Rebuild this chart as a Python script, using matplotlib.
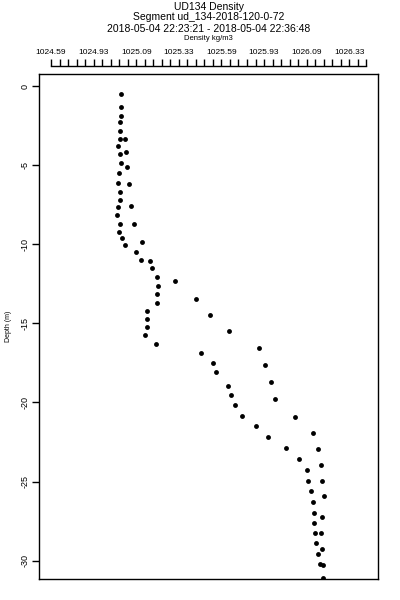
import matplotlib
matplotlib.use("Agg")
import matplotlib.pyplot as plt
import numpy as np
from matplotlib.ticker import FixedLocator, NullFormatter

plt.rcParams['font.family'] = ['Liberation Sans', 'DejaVu Sans']

# Data (density kg/m3, depth m)
density = [1024.997, 1024.998, 1024.998, 1024.994, 1024.993, 1024.991, 1025.023, 1024.983,
           1025.029, 1024.991, 1024.998, 1025.033, 1024.985, 1024.979, 1025.047, 1024.991,
           1024.991, 1024.983, 1025.055, 1024.977, 1024.991, 1025.074, 1024.987, 1025.003,
           1025.121, 1025.020, 1025.084, 1025.117, 1025.168, 1025.181, 1025.210, 1025.313,
           1025.214, 1025.208, 1025.436, 1025.207, 1025.152, 1025.519, 1025.152, 1025.148,
           1025.627, 1025.138, 1025.204, 1025.802, 1025.465, 1025.535, 1025.837, 1025.552,
           1025.871, 1025.621, 1025.638, 1025.896, 1025.664, 1025.706, 1026.015, 1025.788,
           1026.120, 1025.854, 1025.963, 1026.146, 1026.036, 1026.164, 1026.082, 1026.091,
           1026.171, 1026.109, 1026.181, 1026.117, 1026.123, 1026.173, 1026.126, 1026.128,
           1026.167, 1026.134, 1026.169, 1026.148, 1026.159, 1026.175, 1026.175]
depth = [-0.49, -1.35, -1.88, -2.29, -2.83, -3.33, -3.33, -3.77,
         -4.15, -4.30, -4.85, -5.14, -5.50, -6.15, -6.21, -6.68,
         -7.19, -7.63, -7.60, -8.15, -8.74, -8.74, -9.21, -9.63,
         -9.88, -10.07, -10.49, -10.98, -11.08, -11.49, -12.05, -12.35,
         -12.62, -13.15, -13.44, -13.70, -14.22, -14.46, -14.73, -15.25,
         -15.51, -15.76, -16.29, -16.58, -16.86, -17.48, -17.62, -18.10,
         -18.73, -18.95, -19.55, -19.80, -20.18, -20.83, -20.90, -21.47,
         -21.92, -22.17, -22.87, -22.96, -23.55, -23.96, -24.25, -24.95,
         -24.95, -25.62, -25.94, -26.30, -26.97, -27.24, -27.62, -28.26,
         -28.24, -28.89, -29.25, -29.56, -30.20, -30.26, -31.12]

xtick_labels = ['1024.59', '1024.93', '1025.09', '1025.33', '1025.59', '1025.93', '1026.09', '1026.33']
xtick_start = 1024.59
xtick_step = 0.2486
ytick_values = [0, -5, -10, -15, -20, -25, -30]

W, H = 400, 600
fig = plt.figure(figsize=(4, 6), dpi=100)
ax = fig.add_axes([39 / W, 1 - 579 / H, (378 - 39) / W, (579 - 74) / H])

ax.plot(density, depth, linestyle='none', marker='o', ms=3.5, color='black', mec='black', mew=0)

ax.set_xlim(1024.52, 1026.498)
ax.set_ylim(-31.16, 0.76)

for s in ax.spines.values():
    s.set_linewidth(1.0)
    s.set_color('black')

# y axis
ax.set_yticks(ytick_values)
ax.set_yticklabels([str(v) for v in ytick_values], rotation=90, va='center', fontsize=6.5)
ax.tick_params(axis='y', direction='out', length=5, width=1, pad=2)
ax.set_xticks([])
ax.set_ylabel('Depth (m)', fontsize=5, labelpad=6)

# top axis
major_pos = [xtick_start + i * xtick_step for i in range(len(xtick_labels))]
minor_pos = [xtick_start + k * xtick_step / 5 for k in range(38)]
ax2 = ax.twiny()
ax2.set_xlim(ax.get_xlim())
for name in ['bottom', 'left', 'right']:
    ax2.spines[name].set_visible(False)
ax2.spines['top'].set_position(('outward', 6))
ax2.spines['top'].set_bounds(minor_pos[0], minor_pos[-1])
ax2.spines['top'].set_linewidth(1.0)
ax2.xaxis.set_major_locator(FixedLocator(major_pos))
ax2.xaxis.set_minor_locator(FixedLocator(minor_pos))
ax2.set_xticklabels(xtick_labels, fontsize=6)
ax2.tick_params(axis='x', which='both', direction='out', length=5, width=1, pad=2)

# titles
def fy(py):
    return 1 - py / H
cx = (39 + 378) / 2 / W
fig.text(cx, fy(7), 'UD134 Density', ha='center', va='center', fontsize=7.5)
fig.text(cx, fy(17), 'Segment ud_134-2018-120-0-72', ha='center', va='center', fontsize=7.5)
fig.text(cx, fy(29.5), '2018-05-04 22:23:21 - 2018-05-04 22:36:48', ha='center', va='center', fontsize=7.5)
fig.text(cx, fy(38.5), 'Density kg/m3', ha='center', va='center', fontsize=5.5)

fig.savefig('out.png', dpi=100)
